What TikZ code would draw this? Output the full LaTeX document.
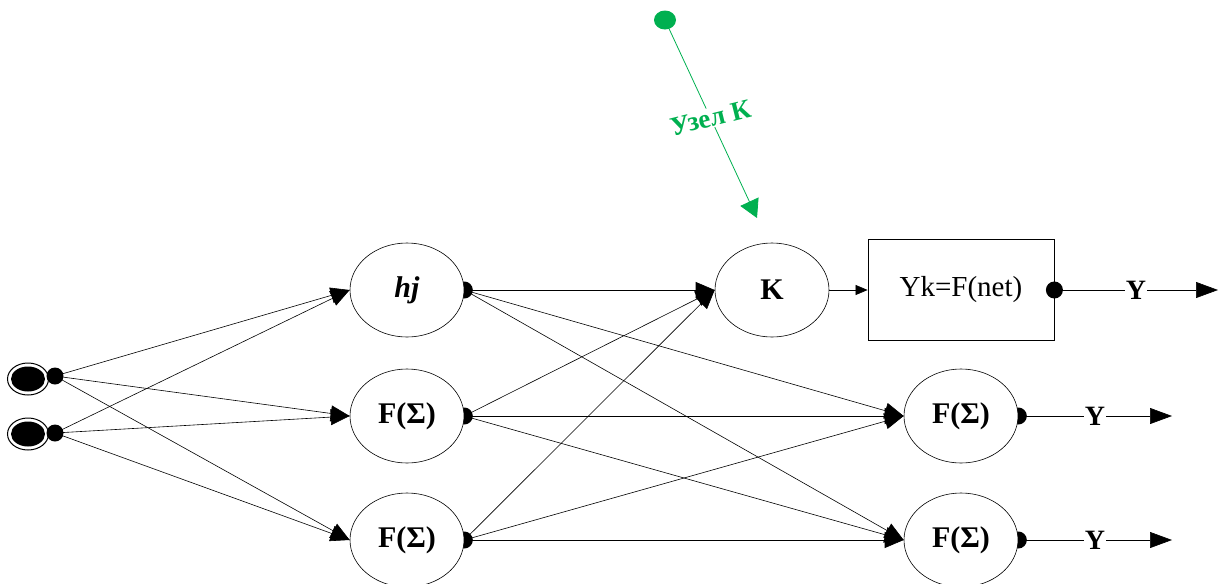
\documentclass[tikz,border=0pt]{standalone}
\usepackage{fontspec}
\setmainfont{Liberation Serif}
\usetikzlibrary{shapes.geometric,arrows.meta}
\definecolor{nodegreen}{HTML}{00B050}
\pgfdeclarelayer{bg}
\pgfsetlayers{bg,main}
\begin{document}
\begin{tikzpicture}[x=1pt,y=-1pt,
  neuron/.style={ellipse,draw,line width=0.6pt,fill=white,minimum width=114pt,minimum height=94pt,inner sep=0pt},
  sumfont/.style={font=\bfseries\fontsize{30}{30}\selectfont},
  ylabel/.style={font=\bfseries\fontsize{28}{28}\selectfont,inner sep=1pt},
  link/.style={line width=0.6pt,-{Triangle[length=19pt,width=16pt]}},
  outarrow/.style={line width=0.6pt,-{Triangle[length=22pt,width=16pt]}},
  plain/.style={line width=0.6pt},
  outdot/.style={circle,fill=black,minimum size=17pt,inner sep=0pt},
  indot/.style={circle,fill=black,minimum size=17pt,inner sep=0pt}
]
\useasboundingbox (0,0) rectangle (1219,584);

% input terminals
\node[ellipse,draw,line width=1pt,fill=white,minimum width=41pt,minimum height=32pt,inner sep=0pt] (in1) at (28,379) {};
\fill (in1.center) ellipse (17pt and 12.5pt);
\node[indot] (d1) at (55,376) {};
\node[ellipse,draw,line width=1pt,fill=white,minimum width=41pt,minimum height=32pt,inner sep=0pt] (in2) at (28,434) {};
\fill (in2.center) ellipse (17pt and 12.5pt);
\node[indot] (d2) at (55,433) {};

% hidden layer
\node[neuron] (hj) at (407,290) {\bfseries\itshape\fontsize{30}{30}\selectfont hj};
\node[neuron,sumfont] (f1) at (407,416) {F(Σ)};
\node[neuron,sumfont] (f2) at (407,540) {F(Σ)};

% output layer
\node[neuron] (k) at (772,290) {\bfseries\fontsize{30}{30}\selectfont K};
\node[draw,line width=0.8pt,minimum width=186pt,minimum height=101pt,inner sep=0pt,font=\fontsize{29}{29}\selectfont] (box) at (961,290) {Yk=F(net)};
\node[neuron,sumfont] (o1) at (961,416) {F(Σ)};
\node[neuron,sumfont] (o2) at (961,540) {F(Σ)};

% output labels and ends
\node[ylabel] (y0) at (1136,290) {Y};
\node[ylabel] (y1) at (1095,416) {Y};
\node[ylabel] (y2) at (1095,540) {Y};
\coordinate (e0) at (1218,290);
\coordinate (e1) at (1172,416);
\coordinate (e2) at (1172,540);

\begin{pgfonlayer}{bg}
  % connection dots on the node borders
  \foreach \n in {hj,f1,f2,o1,o2,box} \node[outdot] (dot-\n) at (\n.east) {};
  % inputs to hidden layer
  \foreach \s in {d1,d2}
    \foreach \t in {hj,f1,f2}
      \draw[link] (\s.center) -- (\t.west);
  % hidden layer to output layer
  \foreach \s in {hj,f1,f2}
    \foreach \t in {k,o1,o2}
      \draw[link] (dot-\s.center) -- (\t.west);
\end{pgfonlayer}

\draw[plain,-{Triangle[length=12pt,width=10pt]}] (k.east) -- (box.west);
\draw[plain] (dot-box.center) -- (y0.west);
\draw[outarrow] (y0.east) -- (e0);
\draw[plain] (dot-o1.center) -- (y1.west);
\draw[outarrow] (y1.east) -- (e1);
\draw[plain] (dot-o2.center) -- (y2.west);
\draw[outarrow] (y2.east) -- (e2);

% node K marker
\node[ellipse,fill=nodegreen,minimum width=22pt,minimum height=19pt,inner sep=0pt] (gdot) at (665,20) {};
\coordinate (gtip) at (757,218);
\draw[nodegreen,line width=0.8pt,-{Triangle[length=18pt,width=20pt]}] (gdot) -- (gtip)
  node[pos=0.47,fill=white,text=nodegreen,rotate=14,inner sep=1pt,font=\bfseries\fontsize{27}{27}\selectfont] (glabel) {Узел К};
\end{tikzpicture}
\end{document}
